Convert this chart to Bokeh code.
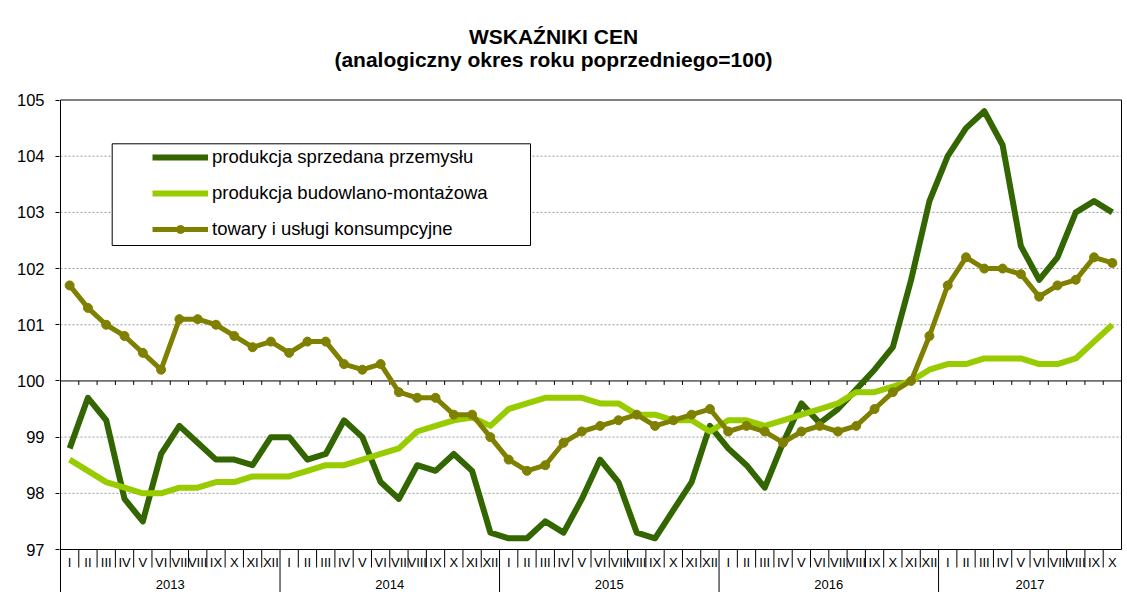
from bokeh.plotting import figure
from bokeh.models import Range1d, FixedTicker, Legend, LegendItem, BoxAnnotation
from bokeh.core.properties import value
from bokeh.embed import file_html
from bokeh.resources import INLINE

# ---------------- data ----------------
month_names = ["I", "II", "III", "IV", "V", "VI", "VII", "VIII", "IX", "X", "XI", "XII"]
years = ["2013", "2014", "2015", "2016", "2017"]
months_per_year = [12, 12, 12, 12, 10]

industry = [98.8, 99.7, 99.3, 97.9, 97.5, 98.7, 99.2, 98.9, 98.6, 98.6, 98.5, 99.0,
            99.0, 98.6, 98.7, 99.3, 99.0, 98.2, 97.9, 98.5, 98.4, 98.7, 98.4, 97.3,
            97.2, 97.2, 97.5, 97.3, 97.9, 98.6, 98.2, 97.3, 97.2, 97.7, 98.2, 99.2,
            98.8, 98.5, 98.1, 98.9, 99.6, 99.25, 99.5, 99.85, 100.2, 100.6, 101.8, 103.2,
            104.0, 104.5, 104.8, 104.2, 102.4, 101.8, 102.2, 103.0, 103.2, 103.0]

construction = [98.6, 98.4, 98.2, 98.1, 98.0, 98.0, 98.1, 98.1, 98.2, 98.2, 98.3, 98.3,
                98.3, 98.4, 98.5, 98.5, 98.6, 98.7, 98.8, 99.1, 99.2, 99.3, 99.35, 99.2,
                99.5, 99.6, 99.7, 99.7, 99.7, 99.6, 99.6, 99.4, 99.4, 99.3, 99.3, 99.1,
                99.3, 99.3, 99.2, 99.3, 99.4, 99.5, 99.6, 99.8, 99.8, 99.9, 100.0, 100.2,
                100.3, 100.3, 100.4, 100.4, 100.4, 100.3, 100.3, 100.4, 100.7, 101.0]

consumer = [101.7, 101.3, 101.0, 100.8, 100.5, 100.2, 101.1, 101.1, 101.0, 100.8, 100.6, 100.7,
            100.5, 100.7, 100.7, 100.3, 100.2, 100.3, 99.8, 99.7, 99.7, 99.4, 99.4, 99.0,
            98.6, 98.4, 98.5, 98.9, 99.1, 99.2, 99.3, 99.4, 99.2, 99.3, 99.4, 99.5,
            99.1, 99.2, 99.1, 98.9, 99.1, 99.2, 99.1, 99.2, 99.5, 99.8, 100.0, 100.8,
            101.7, 102.2, 102.0, 102.0, 101.9, 101.5, 101.7, 101.8, 102.2, 102.1]

series_names = ["produkcja sprzedana przemysłu",
                "produkcja budowlano-montażowa",
                "towary i usługi konsumpcyjne"]
title_lines = ["WSKAŹNIKI CEN", "(analogiczny okres roku poprzedniego=100)"]
y_ticks = [97, 98, 99, 100, 101, 102, 103, 104, 105]

# ---------------- derived ----------------
labels = []
for n in months_per_year:
    labels += month_names[:n]
N = len(labels)
xs = [i + 0.5 for i in range(N)]

FONT = "Liberation Sans"
W, H = 1127, 592
BL = 59                      # frame starts 1px left of the axis line
X0_PX, XN_PX = 60.0, 1121.0  # page x of category boundary 0 and N
px = (XN_PX - X0_PX) / N     # px per month
x_start = -(X0_PX - BL) / px
x_end = x_start + (W - BL) / px

Y105_PX, Y97_PX = 99.5, 549.0
k = (Y97_PX - Y105_PX) / 8.0  # px per unit
y_top = 105 + Y105_PX / k
y_bottom = 105 - (H - Y105_PX) / k

def py(page_y):
    return 105 - (page_y - Y105_PX) / k

def pxx(page_x):
    return (page_x - X0_PX) / px

p = figure(width=W, height=H, x_range=Range1d(x_start, x_end), y_range=Range1d(y_bottom, y_top),
           output_backend="svg", toolbar_location=None, x_axis_location=None,
           min_border_left=BL, min_border_right=0, min_border_top=0, min_border_bottom=0)
p.outline_line_color = None
p.background_fill_color = "white"
p.border_fill_color = "white"

# y axis (labels and ticks only; the line is drawn below)
ax = p.yaxis[0]
ax.ticker = FixedTicker(ticks=y_ticks)
ax.major_label_text_font = FONT
ax.major_label_text_font_size = "16.5px"
ax.major_label_text_color = "black"
ax.major_tick_out = 4
ax.major_tick_in = 0
ax.minor_tick_line_color = None
ax.axis_line_color = None
ax.major_tick_line_color = "black"
ax.major_label_standoff = 11

# grid
p.xgrid.visible = False
p.ygrid.visible = False
grid_vals = [t for t in y_ticks if t not in (97, 100, 105)]
p.segment(x0=[0] * len(grid_vals), y0=grid_vals, x1=[N] * len(grid_vals), y1=grid_vals,
          line_color="#9a9a9a", line_dash="2 2", line_width=1)

# frame borders, left axis line and axis at 100
p.segment(x0=[0, N, 0, 0, 0], y0=[105, 97, 97, 100, 105],
          x1=[N, N, N, N, 0], y1=[105, 105, 97, 100, y_bottom],
          line_color="black", line_width=1)
# ticks on the 100 line
bx = list(range(1, N))
p.segment(x0=bx, y0=[100] * len(bx), x1=bx, y1=[100 - 4 / k] * len(bx),
          line_color="black", line_width=1)

# category separators in the label area
year_bounds = []
acc = 0
for n in months_per_year[:-1]:
    acc += n
    year_bounds.append(acc)
month_bounds = [b for b in range(1, N) if b not in year_bounds]
p.segment(x0=month_bounds, y0=[97] * len(month_bounds), x1=month_bounds,
          y1=[py(567)] * len(month_bounds), line_color="black", line_width=1)
p.segment(x0=year_bounds, y0=[97] * len(year_bounds), x1=year_bounds,
          y1=[y_bottom] * len(year_bounds), line_color="black", line_width=1)

# month labels
p.text(x=xs, y=[py(562)] * N, text=labels, text_align="center", text_baseline="middle",
       text_font=value(FONT), text_font_size="13px", text_color="black")
# year labels
ystarts = [0] + year_bounds
year_x = [s + n / 2 for s, n in zip(ystarts, months_per_year)]
p.text(x=year_x, y=[py(584)] * len(years), text=years, text_align="center",
       text_baseline="middle", text_font=value(FONT), text_font_size="13px", text_color="black")

# series
c_ind, c_con, c_cons = "#336600", "#99cc00", "#808000"
r1 = p.line(xs, industry, line_color=c_ind, line_width=6, line_join="round")
r2 = p.line(xs, construction, line_color=c_con, line_width=6, line_join="round")
r3 = p.line(xs, consumer, line_color=c_cons, line_width=5, line_join="round")
r3m = p.scatter(xs, consumer, marker="circle", size=9, fill_color=c_cons, line_color=c_cons)

# legend box
box = BoxAnnotation(left=pxx(111.7), right=pxx(530), top=py(143.3), bottom=py(245),
                    fill_color="white", fill_alpha=1.0,
                    line_color="black", line_width=1, line_alpha=1.0)
p.add_layout(box)

legend = Legend(items=[LegendItem(label=series_names[0], renderers=[r1]),
                       LegendItem(label=series_names[1], renderers=[r2]),
                       LegendItem(label=series_names[2], renderers=[r3, r3m])],
                location=(152 - BL, H - 240), padding=0, margin=0, spacing=14,
                glyph_width=56, glyph_height=20, label_height=20, label_standoff=4,
                label_text_font=FONT, label_text_font_size="18.5px",
                label_text_color="black",
                border_line_color=None, background_fill_alpha=0)
p.add_layout(legend)

# titles
tx = pxx(553)
p.text(x=[tx, tx], y=[py(36), py(58.5)], text=title_lines, text_align="center",
       text_baseline="middle", text_font=value(FONT), text_font_size="21px",
       text_font_style="bold", text_color="black")

open("out.html", "w").write(file_html(p, INLINE))
